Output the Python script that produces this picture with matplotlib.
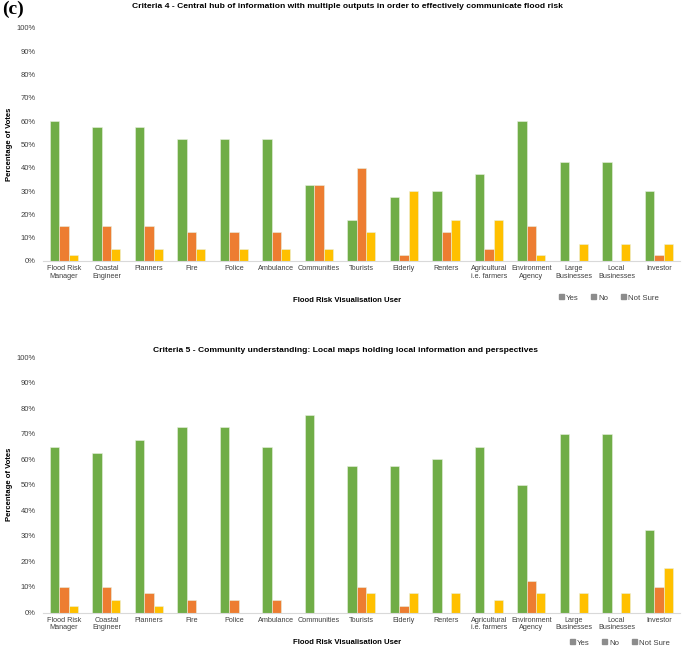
import matplotlib
matplotlib.use('Agg')
import matplotlib.pyplot as plt
from matplotlib.patches import Patch
from matplotlib.ticker import PercentFormatter
import numpy as np

plt.rcParams['font.family'] = ['Liberation Sans', 'DejaVu Sans']

users = ['Flood Risk\nManager', 'Coastal\nEngineer', 'Planners', 'Fire', 'Police',
         'Ambulance', 'Communities', 'Tourists', 'Elderly', 'Renters',
         'Agricultural\ni.e. farmers', 'Environment\nAgency', 'Large\nBusinesses',
         'Local\nBusinesses', 'Investor']

# Criteria 4 (percent of votes)
c4_yes = [60, 57.5, 57.5, 52.5, 52.5, 52.5, 32.5, 17.5, 27.5, 30, 37.5, 60, 42.5, 42.5, 30]
c4_no = [15, 15, 15, 12.5, 12.5, 12.5, 32.5, 40, 2.5, 12.5, 5, 15, 0, 0, 2.5]
c4_unsure = [2.5, 5, 5, 5, 5, 5, 5, 12.5, 30, 17.5, 17.5, 2.5, 7.5, 7.5, 7.5]

# Criteria 5
c5_yes = [65, 62.5, 67.5, 72.5, 72.5, 65, 77.5, 57.5, 57.5, 60, 65, 50, 70, 70, 32.5]
c5_no = [10, 10, 7.5, 5, 5, 5, 0, 10, 2.5, 0, 0, 12.5, 0, 0, 10]
c5_unsure = [2.5, 5, 2.5, 0, 0, 0, 0, 7.5, 7.5, 7.5, 5, 7.5, 7.5, 7.5, 17.5]

title4 = 'Criteria 4 - Central hub of information with multiple outputs in order to effectively communicate flood risk'
title5 = 'Criteria 5 - Community understanding: Local maps holding local information and perspectives'

colors = ['#70AD47', '#ED7D31', '#FFC000']
W, H = 685, 649


def draw(ax, yes, no, unsure):
    x = np.arange(len(users))
    w = 0.22
    for i, vals in enumerate([yes, no, unsure]):
        ax.bar(x + (i - 1) * w, vals, w, color=colors[i], edgecolor='#e8f0e0',
               linewidth=0.4)
    ax.set_xlim(-0.5, len(users) - 0.5)
    ax.set_ylim(0, 100)
    ax.set_yticks(np.arange(0, 101, 10))
    ax.yaxis.set_major_formatter(PercentFormatter(decimals=0))
    ax.set_xticks(x)
    ax.set_xticklabels(users, fontsize=5.2, color='#404040', linespacing=1.1)
    ax.tick_params(axis='y', labelsize=5.5, labelcolor='#404040', length=0, pad=5)
    ax.tick_params(axis='x', length=0, pad=3)
    for s in ['top', 'right', 'left']:
        ax.spines[s].set_visible(False)
    ax.spines['bottom'].set_color('#d9d9d9')
    ax.spines['bottom'].set_linewidth(0.8)


fig = plt.figure(figsize=(W / 100, H / 100), dpi=100)

ax1 = fig.add_axes([42.7 / W, 1 - 261 / H, 637.5 / W, 233 / H])
draw(ax1, c4_yes, c4_no, c4_unsure)
ax2 = fig.add_axes([42.7 / W, 1 - 612.5 / H, 637.5 / W, 255.2 / H])
draw(ax2, c5_yes, c5_no, c5_unsure)

fig.text(0.003, 0.999, '(c)', family='Liberation Serif', fontweight='bold', fontsize=14,
         va='top', ha='left')
fig.text(347 / W, 1 - 6 / H, title4, fontsize=6.1, fontweight='bold', ha='center', va='center')
fig.text(345 / W, 1 - 350 / H, title5, fontsize=6.1, fontweight='bold', ha='center', va='center')

for yc, yt in [((28 + 261) / 2, 301), ((357 + 612) / 2, 643)]:
    fig.text(10 / W, 1 - yc / H, 'Percentage of Votes', rotation=90, fontsize=5.6,
             fontweight='bold', ha='center', va='center')
    fig.text(347 / W, 1 - yt / H, 'Flood Risk Visualisation User', fontsize=5.6,
             fontweight='bold', ha='center', va='center')

handles = [Patch(color='#8c8c8c', label=l) for l in ['Yes', 'No', 'Not Sure']]
for xc, yc in [(609, 298), (620, 643)]:
    fig.legend(handles=handles, loc='center', bbox_to_anchor=(xc / W, 1 - yc / H),
               ncol=3, frameon=False, fontsize=5.6, handlelength=0.6, handleheight=0.6,
               handletextpad=0.3, columnspacing=1.6, labelcolor='#404040')

fig.savefig('out.png', dpi=100)
